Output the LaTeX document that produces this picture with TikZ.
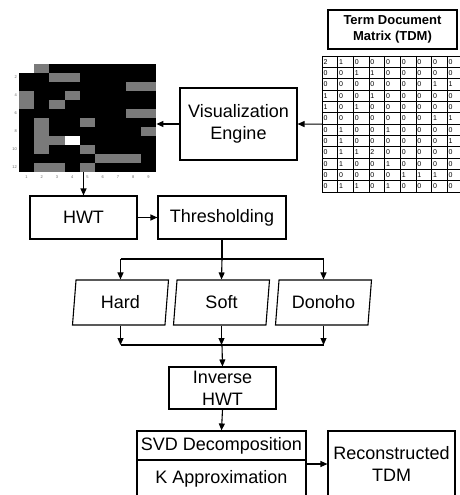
\documentclass[tikz,border=0pt]{standalone}
\usepackage{fontspec}
\setmainfont{Liberation Sans}
\usetikzlibrary{arrows.meta,shapes.geometric}
\begin{document}
\begin{tikzpicture}[x=1pt,y=-1pt,
  box/.style={draw, line width=1.1pt, inner sep=0pt, align=center, font=\fontsize{18}{22}\selectfont},
  para/.style={box, trapezium, trapezium left angle=75, trapezium right angle=105, trapezium stretches body, minimum width=96pt, minimum height=45pt},
  arr/.style={line width=1.1pt, -{Triangle[length=7pt,width=6pt]}},
  ln/.style={line width=1.1pt},
  cell/.style={anchor=west, inner sep=0pt, font=\fontsize{7}{7}\selectfont},
  tick/.style={inner sep=0pt, text=black!60, font=\fontsize{4}{4}\selectfont},
]
\useasboundingbox (0,0) rectangle (460,495);
\def\tdmdata{{2,1,0,0,0,0,0,0,0},{0,0,1,1,0,0,0,0,0},{0,0,0,0,0,0,0,1,1},{1,0,0,1,0,0,0,0,0},{1,0,1,0,0,0,0,0,0},{0,0,0,0,0,0,0,1,1},{0,1,0,0,1,0,0,0,0},{0,1,0,0,0,0,0,0,1},{0,1,1,2,0,0,0,0,0},{0,1,0,0,1,0,0,0,0},{0,0,0,0,0,1,1,1,0},{0,1,1,0,1,0,0,0,0}}

% heatmap
\node[anchor=north west, minimum width=137pt, minimum height=108pt, inner sep=0pt, fill=black] (hm) at (19,64) {};
\foreach \row [count=\r] in \tdmdata {
  \foreach \v [count=\c] in \row {
    \ifnum\v=1 \fill[black!52] ({19+(\c-1)*137/9},{64+(\r-1)*9}) rectangle ++(137/9,9); \fi
    \ifnum\v=2 \fill[white] ({19+(\c-1)*137/9},{64+(\r-1)*9}) rectangle ++(137/9,9); \fi
  }
}
\foreach \i in {2,4,...,12} \node[tick, anchor=east] (yt\i) at (17,{64+(\i-0.5)*9}) {\i};
\foreach \i in {1,...,9} \node[tick] (xt\i) at ({19+(\i-0.5)*137/9},177) {\i};

% matrix
\node[anchor=north west, minimum width=140.85pt, minimum height=136pt, inner sep=0pt] (mat) at (322,56) {};
\foreach \row [count=\r] in \tdmdata {
  \foreach \v [count=\c] in \row {
    \node[cell] (m-\r-\c) at ({322+(\c-1)*15.65+1.3},{56+(\r-0.5)*11.333}) {\v};
  }
}
\foreach \i in {0,...,9} \draw[line width=0.6pt] (322+\i*15.65,56) -- ++(0,136);
\foreach \j in {0,...,12} \draw[line width=0.6pt] (322,56+\j*11.333) -- ++(140.85,0);

% boxes
\node[box, font=\bfseries\fontsize{13}{15.5}\selectfont, minimum width=129pt, minimum height=39pt] (tdm) at (392.5,29.5) {Term Document\\Matrix (TDM)};
\node[box, minimum width=117pt, minimum height=72pt] (ve) at (238.5,124) {Visualization\\Engine};
\node[box, minimum width=107pt, minimum height=43pt] (hwt) at (83.5,217.5) {HWT};
\node[box, minimum width=128pt, minimum height=43pt] (thr) at (222,217.5) {Thresholding};
\node[para] (hard) at (120.5,302.5) {Hard};
\node[para] (soft) at (221.5,302.5) {Soft};
\node[para] (don) at (323.5,302.5) {Donoho};
\node[box, minimum width=107pt, minimum height=42pt] (inv) at (222.5,388) {Inverse\\HWT};
\node[box, minimum width=169pt, minimum height=29pt] (svd) at (221.5,445.5) {SVD Decomposition};
\node[box, minimum width=169pt, minimum height=37pt] (kap) at (221.5,478.5) {K Approximation};
\node[box, minimum width=127pt, minimum height=66pt] (rec) at (391.5,464) {Reconstructed\\TDM};

\coordinate (split) at (222,259);
\coordinate (merge) at (222,345);

% connectors
\draw[arr] (mat.west) -- (ve.east);
\draw[arr] (ve.west) -- (ve.west -| hm.east);
\draw[arr] (hwt.north |- hm.south) -- (hwt.north);
\draw[arr] (hwt.east) -- (thr.west);
\draw[ln] (thr.south) -- (split);
\draw[ln] (hard.north |- split) -- (don.north |- split);
\draw[arr] (hard.north |- split) -- (hard.north);
\draw[arr] (split) -- (soft.north);
\draw[arr] (don.north |- split) -- (don.north);
\draw[arr] (hard.south) -- (hard.south |- merge);
\draw[arr] (soft.south) -- (soft.south |- merge);
\draw[arr] (don.south) -- (don.south |- merge);
\draw[ln] (hard.south |- merge) -- (don.south |- merge);
\draw[arr] (merge) -- (inv.north);
\draw[arr] (inv.south) -- (svd.north);
\draw[arr] (rec.west -| kap.east) -- (rec.west);
\end{tikzpicture}
\end{document}
